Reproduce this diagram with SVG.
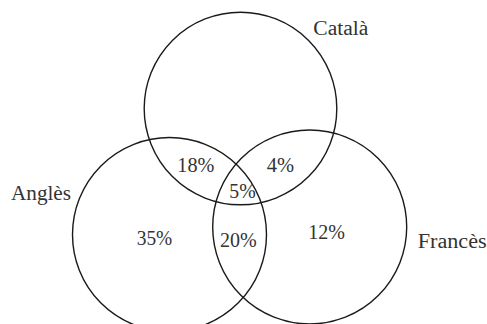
<svg xmlns="http://www.w3.org/2000/svg" width="487" height="324" viewBox="0 0 487 324">
<style>
.c{fill:none;stroke:#1a1a1a;stroke-width:1.4}
.t{font-family:'Liberation Serif','Times New Roman',serif;font-size:20px;fill:#333}
</style>
<rect width="487" height="324" fill="#fff"/>
<g id="catala">
<circle class="c" cx="240.5" cy="108.5" r="96.3"/>
<text class="t" x="313.3" y="35" textLength="55" lengthAdjust="spacingAndGlyphs">Català</text>
</g>
<g id="angles">
<circle class="c" cx="169.5" cy="234.5" r="97"/>
<text class="t" x="11" y="200" textLength="60" lengthAdjust="spacingAndGlyphs">Anglès</text>
</g>
<g id="frances">
<circle class="c" cx="309.7" cy="227" r="97"/>
<text class="t" x="417.7" y="247.7" textLength="69" lengthAdjust="spacingAndGlyphs">Francès</text>
</g>
<g id="values">
<text class="t" x="177.3" y="171.7" textLength="37" lengthAdjust="spacingAndGlyphs">18%</text>
<text class="t" x="266.7" y="171.7" textLength="27.3" lengthAdjust="spacingAndGlyphs">4%</text>
<text class="t" x="229.3" y="198.3" textLength="26.4" lengthAdjust="spacingAndGlyphs">5%</text>
<text class="t" x="136.7" y="245" textLength="35.6" lengthAdjust="spacingAndGlyphs">35%</text>
<text class="t" x="220" y="246.7" textLength="36.7" lengthAdjust="spacingAndGlyphs">20%</text>
<text class="t" x="308.3" y="239.3" textLength="36.7" lengthAdjust="spacingAndGlyphs">12%</text>
</g>
</svg>
